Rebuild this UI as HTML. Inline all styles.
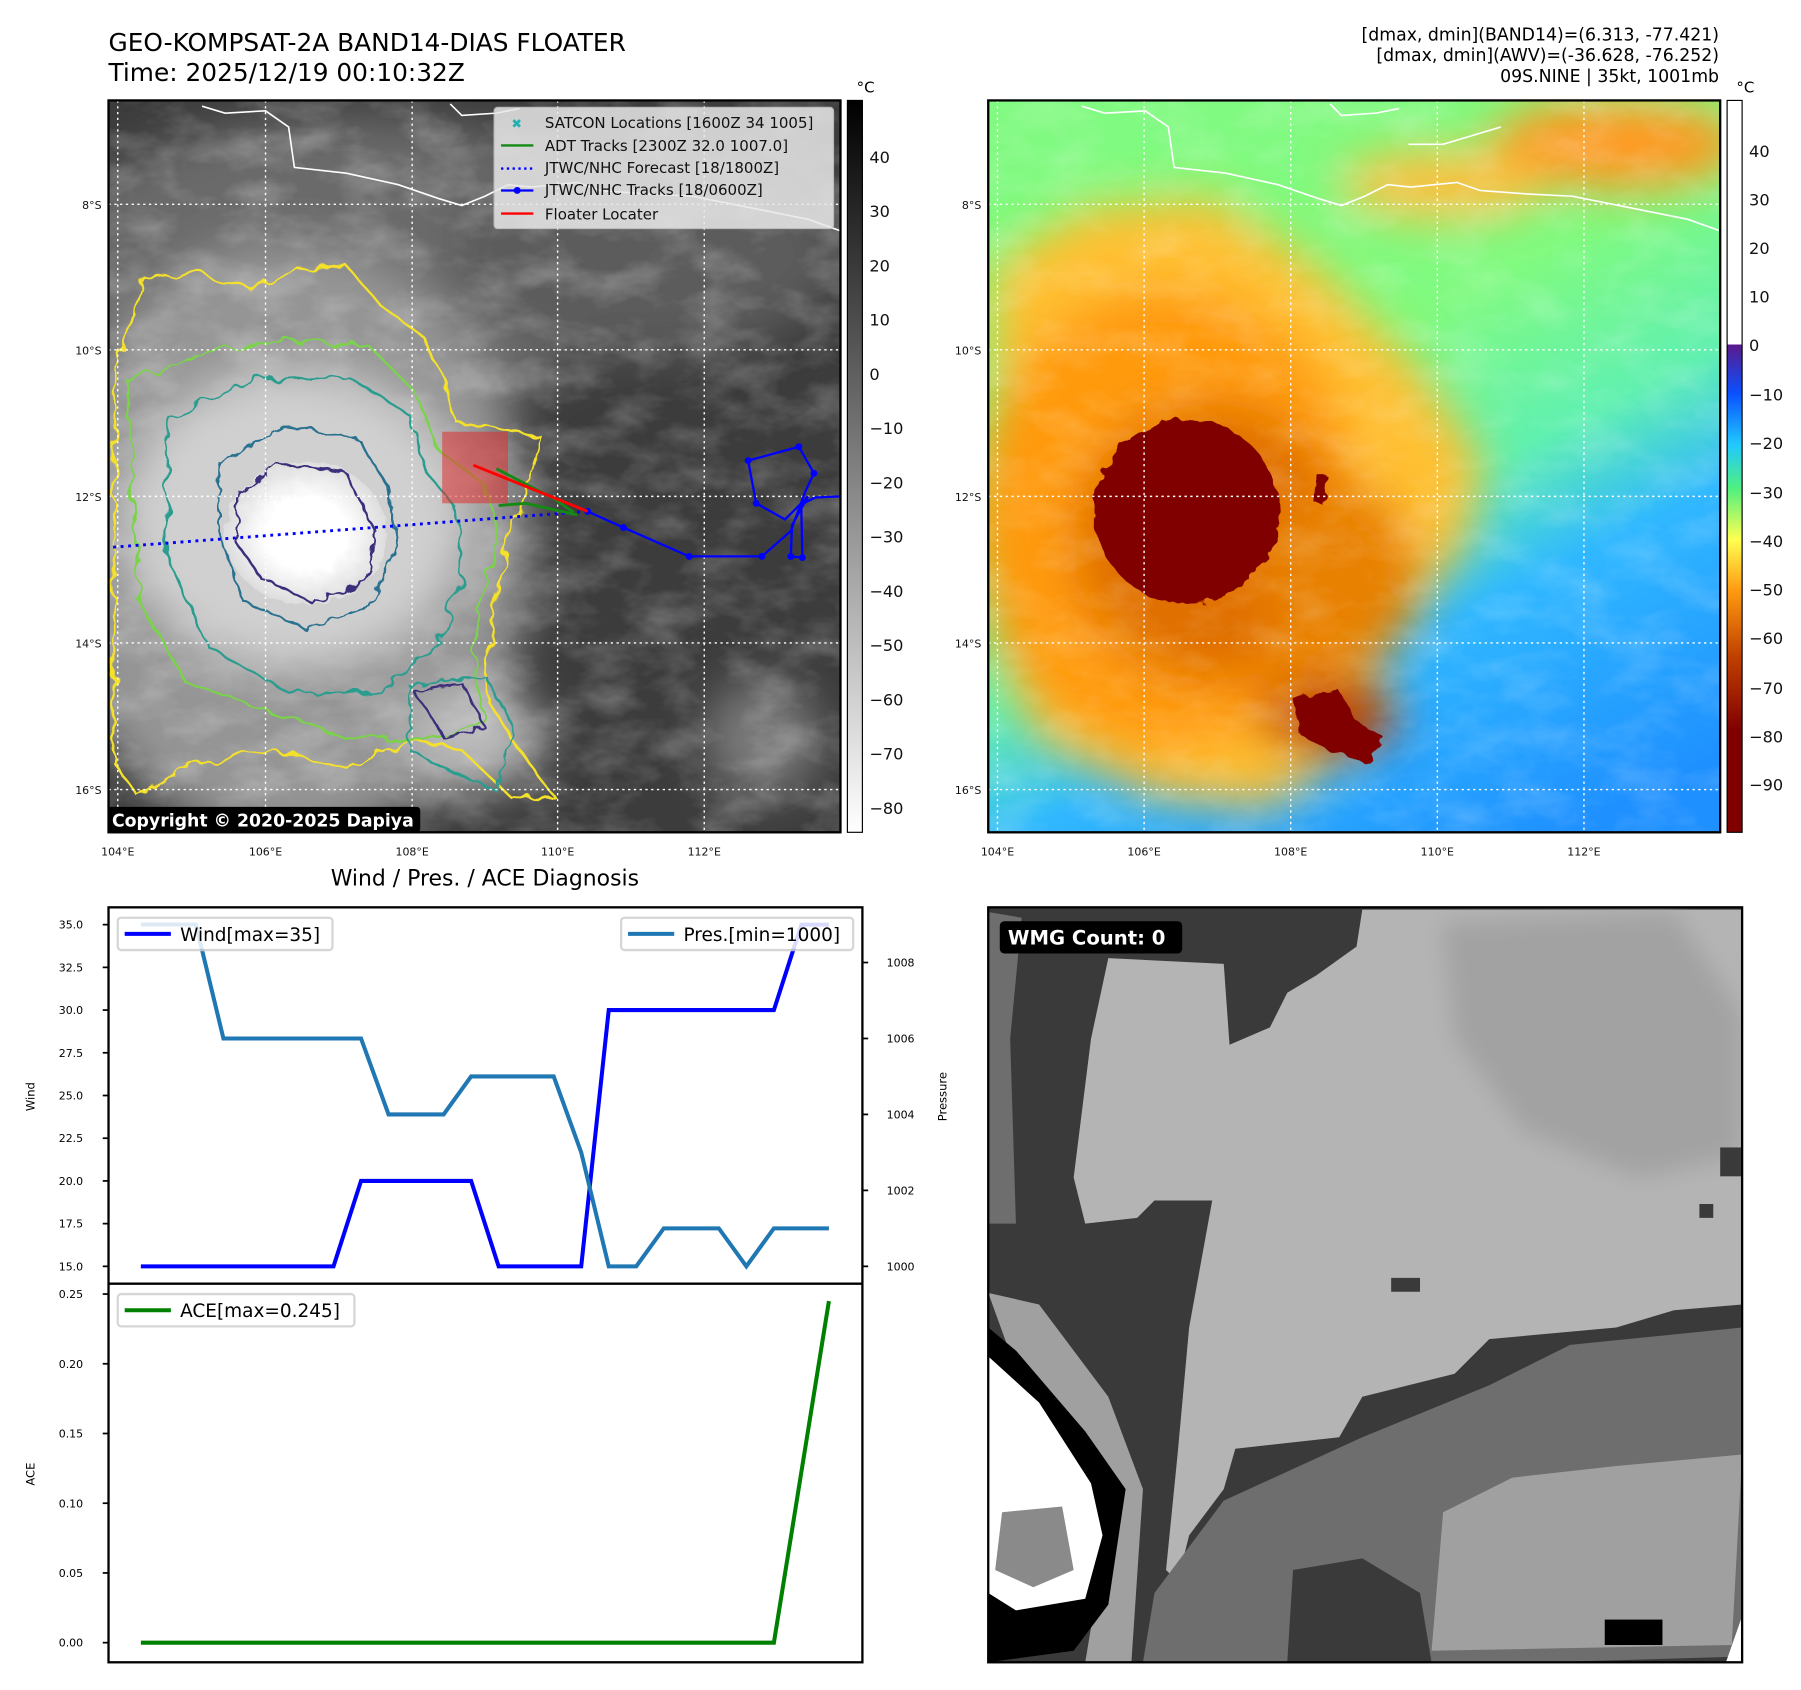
<!DOCTYPE html>
<html><head><meta charset="utf-8"><style>
html,body{margin:0;padding:0;background:#fff;width:1801px;height:1690px;overflow:hidden}
svg{display:block;font-family:"DejaVu Sans","Liberation Sans",sans-serif}
</style></head><body>
<svg id="root" width="1801" height="1690" viewBox="0 0 1560 1464" preserveAspectRatio="none" xmlns="http://www.w3.org/2000/svg">
<defs>
<filter id="wig" x="-5%" y="-5%" width="110%" height="110%"><feTurbulence type="fractalNoise" baseFrequency="0.06" numOctaves="2" seed="3"/><feDisplacementMap in="SourceGraphic" scale="14"/></filter>
<filter id="wig2" x="-5%" y="-5%" width="110%" height="110%"><feTurbulence type="fractalNoise" baseFrequency="0.09" numOctaves="2" seed="8"/><feDisplacementMap in="SourceGraphic" scale="10"/></filter>
<filter id="blur20"><feGaussianBlur stdDeviation="20"/></filter>
<filter id="blur10"><feGaussianBlur stdDeviation="10"/></filter>
<filter id="tex" x="0" y="0" width="100%" height="100%"><feTurbulence type="fractalNoise" baseFrequency="0.02 0.035" numOctaves="4" seed="5"/><feColorMatrix type="matrix" values="0 0 0 0 1  0 0 0 0 1  0 0 0 0 1  1.4 0 0 0 -0.55"/></filter>
<linearGradient id="gcb" x1="0" y1="0" x2="0" y2="1"><stop offset="0" stop-color="#000"/><stop offset="1" stop-color="#fff"/></linearGradient>
<linearGradient id="rcb" x1="0" y1="0" x2="0" y2="1">
<stop offset="0" stop-color="#fff"/><stop offset="0.333" stop-color="#fff"/><stop offset="0.334" stop-color="#5a1a8c"/>
<stop offset="0.40" stop-color="#0a50ff"/><stop offset="0.47" stop-color="#20c8ff"/><stop offset="0.53" stop-color="#50f080"/>
<stop offset="0.60" stop-color="#ffff50"/><stop offset="0.67" stop-color="#ff9a10"/><stop offset="0.76" stop-color="#c04000"/><stop offset="0.86" stop-color="#800000"/><stop offset="1" stop-color="#800000"/></linearGradient>
<linearGradient id="rbg" x1="0.3" y1="0" x2="0.8" y2="1"><stop offset="0.35" stop-color="#80fa80"/><stop offset="0.55" stop-color="#60f0b0"/><stop offset="0.7" stop-color="#30b8ff"/><stop offset="1" stop-color="#1e90ff"/></linearGradient>
<radialGradient id="core" cx="0.5" cy="0.5" r="0.5"><stop offset="0.5" stop-color="#fff"/><stop offset="1" stop-color="#ddd"/></radialGradient>
<clipPath id="cl1"><rect x="94" y="87" width="634" height="634"/></clipPath>
<clipPath id="cl2"><rect x="856" y="87" width="634" height="634"/></clipPath>
<clipPath id="cl3"><rect x="856" y="786" width="653" height="654"/></clipPath>
</defs>

<text x="94" y="44" font-size="21.5">GEO-KOMPSAT-2A BAND14-DIAS FLOATER</text>
<text x="94" y="70" font-size="21.5">Time: 2025/12/19 00:10:32Z</text>
<g font-size="15" text-anchor="end">
<text x="1489" y="35">[dmax, dmin](BAND14)=(6.313, -77.421)</text>
<text x="1489" y="53">[dmax, dmin](AWV)=(-36.628, -76.252)</text>
<text x="1489" y="71">09S.NINE | 35kt, 1001mb</text></g>

<!-- LEFT IR MAP -->
<g clip-path="url(#cl1)">
<rect x="94" y="87" width="634" height="634" fill="#3c3c3c"/>
<g filter="url(#blur20)">
<ellipse cx="300" cy="230" rx="260" ry="130" fill="#6a6a6a"/>
<ellipse cx="560" cy="220" rx="170" ry="90" fill="#5c5c5c"/>
<ellipse cx="250" cy="470" rx="210" ry="260" fill="#959595"/>
<ellipse cx="660" cy="640" rx="50" ry="50" fill="#7a7a7a"/>
<ellipse cx="410" cy="640" rx="60" ry="45" fill="#bbb"/>
</g>
<rect x="94" y="87" width="634" height="634" filter="url(#tex)" opacity="0.35"/>
<ellipse cx="255" cy="450" rx="150" ry="130" fill="#d0d0d0" filter="url(#blur20)"/>
<ellipse cx="265" cy="462" rx="70" ry="62" fill="url(#core)" filter="url(#wig2)"/>
<g fill="none" stroke-width="2">
<path filter="url(#wig)" stroke="#f5e12a" d="M100,320 L125,240 L170,235 L215,250 L260,235 L300,230 L330,265 L365,290 L385,330 L395,365 L430,372 L470,380 L455,430 L440,470 L430,520 L420,570 L425,610 L450,650 L480,690 L440,688 L400,650 L355,640 L300,665 L240,650 L170,660 L120,690 L98,660 Z"/>
<path filter="url(#wig)" stroke="#7ad34a" d="M110,330 L180,305 L250,295 L320,300 L360,340 L380,390 L420,420 L430,470 L415,530 L410,580 L420,620 L380,640 L300,640 L230,615 L160,590 L120,520 Z"/>
<path filter="url(#wig)" stroke="#2a9d8f" d="M145,360 L220,330 L300,325 L355,360 L370,410 L395,440 L400,500 L380,560 L330,600 L250,600 L180,560 L145,480 Z"/>
<path filter="url(#wig2)" stroke="#2a6f8f" d="M190,400 L250,370 L310,380 L335,420 L345,470 L320,525 L265,545 L210,520 L190,460 Z"/>
<path filter="url(#wig2)" stroke="#3a2e7a" d="M205,430 L240,402 L300,410 L325,460 L318,505 L270,522 L225,500 L205,470 Z"/>
<path filter="url(#wig2)" stroke="#3a2e7a" d="M360,600 L400,592 L420,630 L385,640 Z"/>
<path filter="url(#wig2)" stroke="#2a9d8f" d="M355,595 L420,585 L445,630 L430,685 L395,670 L355,650 Z"/>
</g>
<g stroke="#fff" stroke-width="1.4" fill="none">
<path d="M175,92 L195,98 L230,96 L250,110 L255,145 L300,150 L345,160 L380,172 L400,178 L420,170 L440,160 L460,162 L500,158 L520,165 L560,168 L600,170 L660,182 L700,190 L728,200"/>
<path d="M390,90 L400,100 L430,98 L450,94"/>
</g>
<g stroke="#fff" stroke-width="1.2" stroke-dasharray="2,3">
<line x1="102" y1="87" x2="102" y2="721"/><line x1="230" y1="87" x2="230" y2="721"/><line x1="357" y1="87" x2="357" y2="721"/><line x1="483" y1="87" x2="483" y2="721"/><line x1="610" y1="87" x2="610" y2="721"/>
<line x1="94" y1="177" x2="728" y2="177"/><line x1="94" y1="303" x2="728" y2="303"/><line x1="94" y1="430" x2="728" y2="430"/><line x1="94" y1="557" x2="728" y2="557"/><line x1="94" y1="684" x2="728" y2="684"/>
</g>
<rect x="383" y="374" width="57" height="62" fill="#e03030" opacity="0.55"/>
<polyline points="98,474 509,443" stroke="#0000ff" stroke-width="2.5" stroke-dasharray="2.5,4" fill="none"/>
<polyline points="509,443 540,457 597,482 660,482 685,460 697,427 705,410 692,387 648,399 655,436 680,450 700,430 686,455 685,482 695,483 694,437 706,431 728,430" stroke="#0000ff" stroke-width="2" fill="none"/>
<g fill="#0000ff"><circle cx="509" cy="443" r="3"/><circle cx="540" cy="457" r="3"/><circle cx="597" cy="482" r="3"/><circle cx="660" cy="482" r="3"/><circle cx="692" cy="387" r="3"/><circle cx="648" cy="399" r="3"/><circle cx="655" cy="436" r="3"/><circle cx="685" cy="482" r="3"/><circle cx="695" cy="483" r="3"/><circle cx="705" cy="410" r="3"/></g>
<polyline points="432,438 455,436 500,446" stroke="#148a14" stroke-width="2.5" fill="none"/>
<polyline points="430,406 480,432 497,444" stroke="#148a14" stroke-width="2.5" fill="none"/>
<line x1="410" y1="403" x2="509" y2="443" stroke="#ff0000" stroke-width="2.5"/>
<g>
<rect x="428" y="93" width="294" height="105" rx="3" fill="#e8e8e8" opacity="0.85" stroke="#ccc"/>
<g font-size="13" fill="#111">
<text x="443" y="111" fill="#20b0b0" font-size="11">✖</text><text x="472" y="111">SATCON Locations [1600Z 34 1005]</text>
<line x1="434" y1="126" x2="462" y2="126" stroke="#148a14" stroke-width="2"/><text x="472" y="131">ADT Tracks [2300Z 32.0 1007.0]</text>
<line x1="434" y1="146" x2="462" y2="146" stroke="#00f" stroke-width="2" stroke-dasharray="2,3"/><text x="472" y="150">JTWC/NHC Forecast [18/1800Z]</text>
<line x1="434" y1="165" x2="462" y2="165" stroke="#00f" stroke-width="2"/><circle cx="448" cy="165" r="3" fill="#00f"/><text x="472" y="169">JTWC/NHC Tracks [18/0600Z]</text>
<line x1="434" y1="185" x2="462" y2="185" stroke="#f00" stroke-width="2"/><text x="472" y="190">Floater Locater</text></g></g>
<rect x="92" y="699" width="272" height="22" rx="3" fill="#000"/>
<text x="97" y="716" fill="#fff" font-size="15" font-weight="bold">Copyright © 2020-2025 Dapiya</text>
</g>
<rect x="94" y="87" width="634" height="634" fill="none" stroke="#000" stroke-width="2"/>

<!-- RIGHT AWV MAP -->
<g clip-path="url(#cl2)">
<rect x="856" y="87" width="634" height="634" fill="url(#rbg)"/>
<g filter="url(#blur20)">
<ellipse cx="1400" cy="125" rx="110" ry="40" fill="#ff9a20"/>
<ellipse cx="1250" cy="160" rx="90" ry="30" fill="#ffc040"/>
<path d="M860,230 L940,180 L1050,170 L1140,230 L1230,320 L1285,400 L1270,470 L1200,560 L1170,650 L1100,700 L1000,690 L900,640 L860,560 Z" fill="#ffc030"/>
<ellipse cx="1010" cy="450" rx="170" ry="200" fill="#ff9a10"/>
<ellipse cx="1050" cy="470" rx="120" ry="120" fill="#e07000"/>
<ellipse cx="1160" cy="500" rx="70" ry="80" fill="#e88000"/>
<ellipse cx="1150" cy="620" rx="60" ry="35" fill="#c04000"/>
</g>
<rect x="856" y="87" width="634" height="634" filter="url(#tex)" opacity="0.25"/>
<ellipse cx="1028" cy="443" rx="80" ry="80" fill="#800000" filter="url(#wig2)"/>
<path filter="url(#wig2)" d="M1120,605 L1160,598 L1175,625 L1200,640 L1185,660 L1150,650 L1125,635 Z" fill="#800000"/>
<path filter="url(#wig2)" d="M1140,410 L1150,412 L1148,440 L1138,435 Z" fill="#800000"/>
<g stroke="#fff" stroke-width="1.4" fill="none">
<path d="M937,92 L957,98 L992,96 L1012,110 L1017,145 L1062,150 L1107,160 L1142,172 L1162,178 L1182,170 L1202,160 L1222,162 L1262,158 L1282,165 L1322,168 L1362,170 L1422,182 L1462,190 L1490,200"/>
<path d="M1152,90 L1162,100 L1192,98 L1212,94 M1300,110 L1250,125 L1220,125"/>
</g>
<g stroke="#fff" stroke-width="1.2" stroke-dasharray="2,3">
<line x1="864" y1="87" x2="864" y2="721"/><line x1="991" y1="87" x2="991" y2="721"/><line x1="1118" y1="87" x2="1118" y2="721"/><line x1="1245" y1="87" x2="1245" y2="721"/><line x1="1372" y1="87" x2="1372" y2="721"/>
<line x1="856" y1="177" x2="1490" y2="177"/><line x1="856" y1="303" x2="1490" y2="303"/><line x1="856" y1="430" x2="1490" y2="430"/><line x1="856" y1="557" x2="1490" y2="557"/><line x1="856" y1="684" x2="1490" y2="684"/>
</g></g>
<rect x="856" y="87" width="634" height="634" fill="none" stroke="#000" stroke-width="2"/>

<!-- colorbars -->
<g>
<rect x="734" y="87" width="13" height="634" fill="url(#gcb)" stroke="#000" stroke-width="1"/>
<text x="742" y="80" font-size="13">°C</text>
<g font-size="14" fill="#111">
<text x="753" y="141">40</text><text x="753" y="188">30</text><text x="753" y="235">20</text><text x="753" y="282">10</text><text x="753" y="329">0</text><text x="753" y="376">−10</text><text x="753" y="423">−20</text><text x="753" y="470">−30</text><text x="753" y="517">−40</text><text x="753" y="564">−50</text><text x="753" y="611">−60</text><text x="753" y="658">−70</text><text x="753" y="705">−80</text></g></g>
<g>
<rect x="1496" y="87" width="13" height="634" fill="url(#rcb)" stroke="#000" stroke-width="1"/>
<text x="1504" y="80" font-size="13">°C</text>
<g font-size="14" fill="#111">
<text x="1515" y="136">40</text><text x="1515" y="178">30</text><text x="1515" y="220">20</text><text x="1515" y="262">10</text><text x="1515" y="304">0</text><text x="1515" y="347">−10</text><text x="1515" y="389">−20</text><text x="1515" y="432">−30</text><text x="1515" y="474">−40</text><text x="1515" y="516">−50</text><text x="1515" y="558">−60</text><text x="1515" y="601">−70</text><text x="1515" y="643">−80</text><text x="1515" y="685">−90</text></g></g>

<g font-size="9.5" fill="#111">
<text x="102" y="741" text-anchor="middle">104°E</text><text x="230" y="741" text-anchor="middle">106°E</text><text x="357" y="741" text-anchor="middle">108°E</text><text x="483" y="741" text-anchor="middle">110°E</text><text x="610" y="741" text-anchor="middle">112°E</text>
<text x="864" y="741" text-anchor="middle">104°E</text><text x="991" y="741" text-anchor="middle">106°E</text><text x="1118" y="741" text-anchor="middle">108°E</text><text x="1245" y="741" text-anchor="middle">110°E</text><text x="1372" y="741" text-anchor="middle">112°E</text>
<g text-anchor="end"><text x="88" y="181">8°S</text><text x="88" y="307">10°S</text><text x="88" y="434">12°S</text><text x="88" y="561">14°S</text><text x="88" y="688">16°S</text>
<text x="850" y="181">8°S</text><text x="850" y="307">10°S</text><text x="850" y="434">12°S</text><text x="850" y="561">14°S</text><text x="850" y="688">16°S</text></g></g>

<!-- WMG panel -->
<g clip-path="url(#cl3)">
<rect x="856" y="786" width="653" height="654" fill="#3a3a3a"/>
<polygon fill="#6e6e6e" points="856,790 885,795 875,900 880,1060 856,1060"/>
<polygon fill="#b4b4b4" points="960,830 1060,835 1065,905 1100,890 1115,860 1140,845 1175,820 1180,788 1509,788 1509,1130 1450,1135 1400,1150 1290,1160 1260,1190 1180,1210 1160,1245 1070,1255 1060,1290 1030,1330 1020,1370 1010,1360 1020,1260 1030,1150 1050,1040 1000,1040 985,1055 940,1060 930,1020 945,900"/>
<polygon fill="#a2a2a2" points="1250,800 1450,790 1509,880 1509,1000 1420,1020 1320,980 1260,900" filter="url(#blur10)"/>
<polygon fill="#6e6e6e" points="990,1440 1000,1380 1060,1300 1180,1245 1290,1200 1360,1165 1509,1150 1509,1435 1340,1440"/>
<polygon fill="#a0a0a0" points="1240,1430 1250,1310 1310,1280 1400,1270 1509,1260 1500,1425"/>
<polygon fill="#3a3a3a" points="1115,1440 1120,1360 1180,1350 1230,1380 1240,1440"/>
<polygon fill="#a0a0a0" points="856,1120 900,1130 960,1210 990,1290 980,1440 940,1440 950,1380"/>
<polygon fill="#000" points="856,1150 880,1170 940,1240 975,1290 960,1390 930,1430 856,1440"/>
<polygon fill="#fff" points="856,1175 900,1215 945,1285 955,1330 940,1385 880,1395 856,1380"/>
<polygon fill="#8a8a8a" points="868,1310 920,1305 930,1360 895,1375 862,1360"/>
<rect x="1390" y="1403" width="50" height="22" fill="#000"/>
<rect x="1205" y="1107" width="25" height="12" fill="#3a3a3a"/>
<rect x="1472" y="1043" width="12" height="12" fill="#3a3a3a"/>
<rect x="1490" y="994" width="18" height="25" fill="#3a3a3a"/>
<polygon fill="#fff" points="1495,1440 1509,1440 1509,1400"/>
</g>
<rect x="856" y="786" width="653" height="654" fill="none" stroke="#000" stroke-width="2"/>
<rect x="866" y="798" width="158" height="28" rx="4" fill="#000"/>
<text x="873" y="818" fill="#fff" font-size="17" font-weight="bold">WMG Count: 0</text>

<!-- Diagnosis chart -->
<text x="420" y="767" font-size="19" text-anchor="middle">Wind / Pres. / ACE Diagnosis</text>
<g id="chart"></g>
</svg>
<script>
const idx = [0,1,2,3,4,5,6,7,8,9,10,11,12,13,14,15,16,17,18,19,20,21,22,23,24,25];
const wind = [15,15,15,15,15,15,15,15,20,20,20,20,20,15,15,15,15,30,30,30,30,30,30,30,35,35];
const pres = [1009,1009,1009,1006,1006,1006,1006,1006,1006,1004,1004,1004,1005,1005,1005,1005,1003,1000,1000,1001,1001,1001,1000,1001,1001,1001];
const ace = [0,0,0,0,0,0,0,0,0,0,0,0,0,0,0,0,0,0,0,0,0,0,0,0,0.1225,0.245];
const windTicks = [15,17.5,20,22.5,25,27.5,30,32.5,35];
const presTicks = [1000,1002,1004,1006,1008];
const aceTicks = [0,0.05,0.1,0.15,0.2,0.25];

const NS='http://www.w3.org/2000/svg';
const g=document.getElementById('chart');
function mk(t,a,p){const e=document.createElementNS(NS,t);for(const k in a)e.setAttribute(k,a[k]);(p||g).appendChild(e);return e;}
const X0=94,X1=747,TOP=786,MID=1112,BOT=1440;
const xs=i=>122+(718-122)*i/(idx.length-1);
const yW=v=>1097-(v-15)*(1097-801)/20;
const yP=v=>1097-(v-1000)*32.9;
const yA=v=>1423-v*(1423-1121)/0.25;

mk('rect',{x:X0,y:TOP,width:X1-X0,height:BOT-TOP,fill:'#fff',stroke:'#000','stroke-width':2});
mk('line',{x1:X0,y1:MID,x2:X1,y2:MID,stroke:'#000','stroke-width':2});

windTicks.forEach(v=>{const y=yW(v);
 const t=mk('line',{x1:X0-5,y1:y,x2:X0,y2:y,stroke:'#000','stroke-width':1.5});
 
 const l=mk('text',{x:X0-22,y:y+3.5,'font-size':9.5,'text-anchor':'end'});l.textContent=v.toFixed(1);
 });
presTicks.forEach(v=>{const y=yP(v);
 const t=mk('line',{x1:X1,y1:y,x2:X1+5,y2:y,stroke:'#000','stroke-width':1.5});
 
 const l=mk('text',{x:X1+21,y:y+3.5,'font-size':9.5});l.textContent=v;
 });
aceTicks.forEach(v=>{const y=yA(v);
 const t=mk('line',{x1:X0-5,y1:y,x2:X0,y2:y,stroke:'#000','stroke-width':1.5});
 
 const l=mk('text',{x:X0-22,y:y+3.5,'font-size':9.5,'text-anchor':'end'});l.textContent=v.toFixed(2);
 });

const yl=mk('text',{x:30,y:950,'font-size':10,'text-anchor':'middle',transform:'rotate(-90 30 950)'});yl.textContent='Wind';

const pl=mk('text',{x:820,y:950,'font-size':10,'text-anchor':'middle',transform:'rotate(-90 820 950)'});pl.textContent='Pressure';

const al=mk('text',{x:30,y:1277,'font-size':10,'text-anchor':'middle',transform:'rotate(-90 30 1277)'});al.textContent='ACE';


const wl=mk('polyline',{points:wind.map((v,i)=>xs(i)+','+yW(v)).join(' '),fill:'none',stroke:'#0000ff','stroke-width':3.5});

const pln=mk('polyline',{points:pres.map((v,i)=>xs(i)+','+yP(v)).join(' '),fill:'none',stroke:'#1f77b4','stroke-width':3.5});

const alnn=mk('polyline',{points:ace.map((v,i)=>xs(i)+','+yA(v)).join(' '),fill:'none',stroke:'#008000','stroke-width':3.5});


function legend(x,y,w,color,label,name){
 const r=mk('rect',{x:x,y:y,width:w,height:28,rx:3,fill:'#fff',stroke:'#d0d0d0','stroke-width':2,opacity:0.85});
 
 mk('line',{x1:x+6,y1:y+14,x2:x+46,y2:y+14,stroke:color,'stroke-width':3.5});
 const t=mk('text',{x:x+54,y:y+20,'font-size':16});t.textContent=label;}
legend(102,795,186,'#0000ff','Wind[max=35]','wind-legend');
legend(538,795,201,'#1f77b4','Pres.[min=1000]','pressure-legend');
legend(102,1121,205,'#008000','ACE[max=0.245]','ace-legend');
</script>
</body></html>
